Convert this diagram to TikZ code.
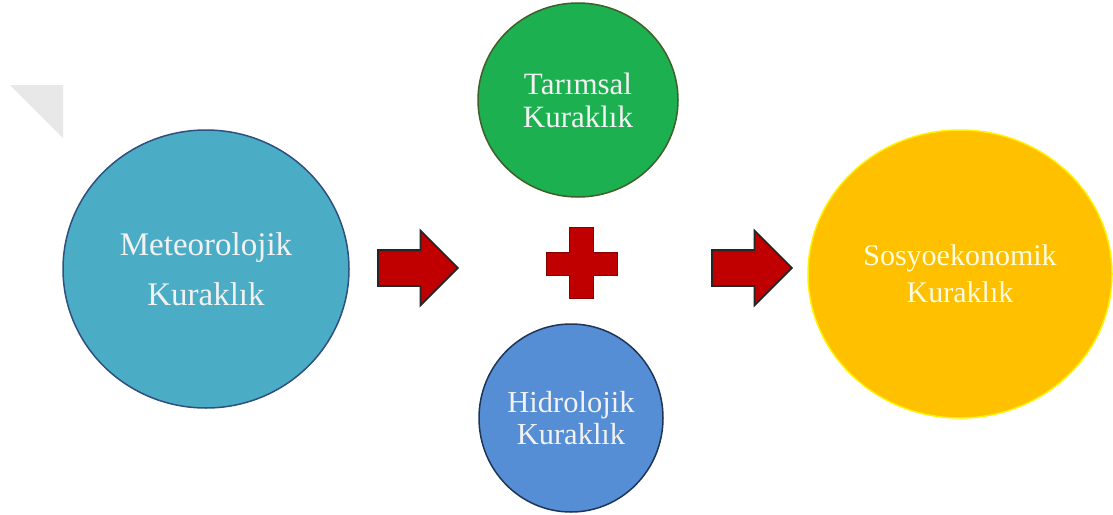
\documentclass[tikz,border=0pt]{standalone}
\usepackage{fontspec}
\setmainfont{Liberation Serif}
\usetikzlibrary{shapes.geometric,shapes.arrows}
\definecolor{meteoFill}{HTML}{4BACC6}
\definecolor{meteoLine}{HTML}{2F4F7F}
\definecolor{tarimFill}{HTML}{1DB051}
\definecolor{tarimLine}{HTML}{3F5F2A}
\definecolor{hidroFill}{HTML}{558ED5}
\definecolor{hidroLine}{HTML}{1F3557}
\definecolor{sosyoFill}{HTML}{FFC000}
\definecolor{sosyoLine}{HTML}{FFF200}
\definecolor{okRed}{HTML}{C00000}
\begin{document}
\begin{tikzpicture}[x=1pt, y=-1pt, main/.style = {ellipse, draw, line width=1.5pt, text=white!95!black, align=center, inner sep=0pt},
    ok/.style = {single arrow, draw=black!85, fill=okRed, line width=1.8pt, inner xsep=0pt, inner ysep=17pt, minimum height=80pt, single arrow head extend=19.5pt}]
    \useasboundingbox (0,0) rectangle (1113,514);
    \fill[black!9] (10,85) -- (63,85) -- (63,138) -- cycle;

    % Disegna i nodi
    \node[main, fill=meteoFill, draw=meteoLine, minimum width=286pt, minimum height=278pt, font=\fontsize{33}{50}\selectfont] (m) at (206,269) {Meteorolojik\\Kuraklık};
    \node[main, fill=tarimFill, draw=tarimLine, minimum width=200pt, minimum height=194pt, font=\fontsize{31}{33}\selectfont] (t) at (578,100) {Tarımsal\\Kuraklık};
    \node[main, fill=hidroFill, draw=hidroLine, minimum width=184pt, minimum height=188pt, font=\fontsize{30.5}{32}\selectfont] (h) at (571,418) {Hidrolojik\\Kuraklık};
    \node[main, fill=sosyoFill, draw=sosyoLine, text=yellow!12, minimum width=304pt, minimum height=288pt, font=\fontsize{30}{37}\selectfont] (s) at (960,274) {Sosyoekonomik\\Kuraklık};

    \node[ok] (a1) at (409,268) {};
    \node[ok] (a2) at (743,268) {};

    \filldraw[fill=okRed, draw=okRed!70!black, line width=0.8pt] (569,227) -- (593,227) -- (593,252) -- (617,252) -- (617,275) -- (593,275) -- (593,298) -- (569,298) -- (569,275) -- (546,275) -- (546,252) -- (569,252) -- cycle;

\end{tikzpicture}
\end{document}
